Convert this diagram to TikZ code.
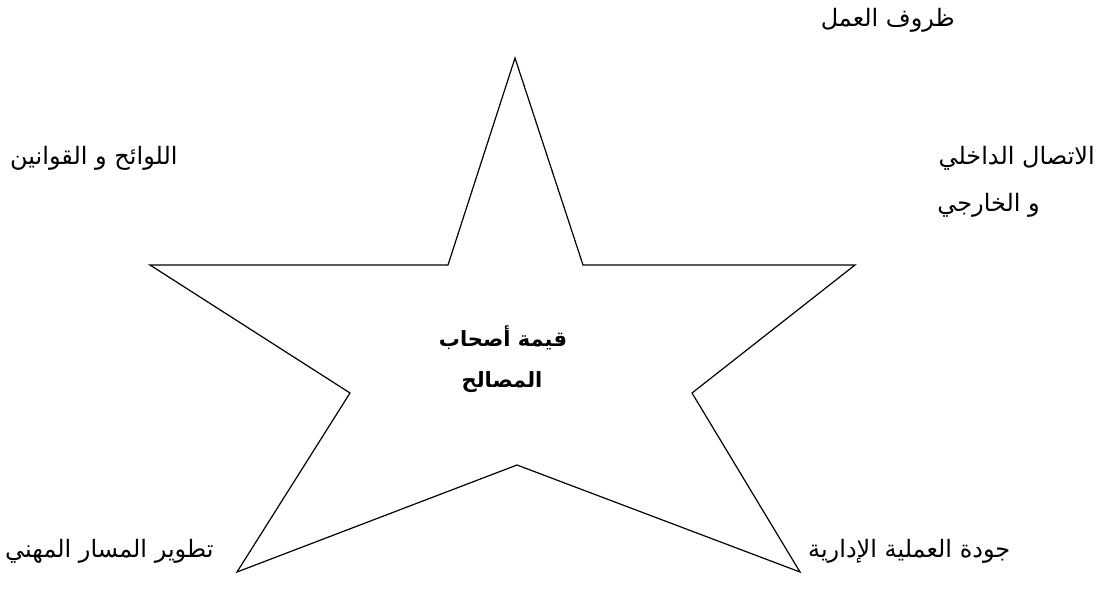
\documentclass[tikz,border=0pt]{standalone}
\usepackage{fontspec}
\newfontfamily\arabicfont[Script=Arabic]{DejaVu Sans}
\TeXXeTstate=1
\begin{document}
\begin{tikzpicture}[x=1pt,y=-1pt,
    arlabel/.style={font=\arabicfont\fontsize{24}{28}\selectfont, inner sep=0pt},
    arcentre/.style={font=\arabicfont\bfseries\fontsize{21}{25}\selectfont, inner sep=0pt}]
    \useasboundingbox (0,0) rectangle (1115,602);
    % Star
    \coordinate (apex) at (515,58);
    \coordinate (innerUR) at (583,265);
    \coordinate (tipR) at (855,265);
    \coordinate (innerLR) at (692,393);
    \coordinate (tipBR) at (800,572);
    \coordinate (innerB) at (517,465);
    \coordinate (tipBL) at (237,572);
    \coordinate (innerLL) at (350,393);
    \coordinate (tipL) at (150,265);
    \coordinate (innerUL) at (448,265);
    \draw[line width=1.2pt] (apex) -- (innerUR) -- (tipR) -- (innerLR) -- (tipBR) -- (innerB)
        -- (tipBL) -- (innerLL) -- (tipL) -- (innerUL) -- cycle;
    % Centre
    \node[arcentre] (value) at (503,338) {\beginR قيمة أصحاب\endR};
    \node[arcentre] (holders) at (502,382) {\beginR المصالح\endR};
    % Outer labels
    \node[arlabel, anchor=east] (work) at (955,20) {\beginR ظروف العمل\endR};
    \node[arlabel, anchor=west] (rules) at (10,158) {\beginR اللوائح و القوانين\endR};
    \node[arlabel, anchor=east] (comm) at (1095,158) {\beginR الاتصال الداخلي\endR};
    \node[arlabel, anchor=east] (commext) at (1040,205) {\beginR و الخارجي\endR};
    \node[arlabel, anchor=west] (career) at (5,551) {\beginR تطوير المسار المهني\endR};
    \node[arlabel, anchor=west] (quality) at (808,551) {\beginR جودة العملية الإدارية\endR};
\end{tikzpicture}
\end{document}
